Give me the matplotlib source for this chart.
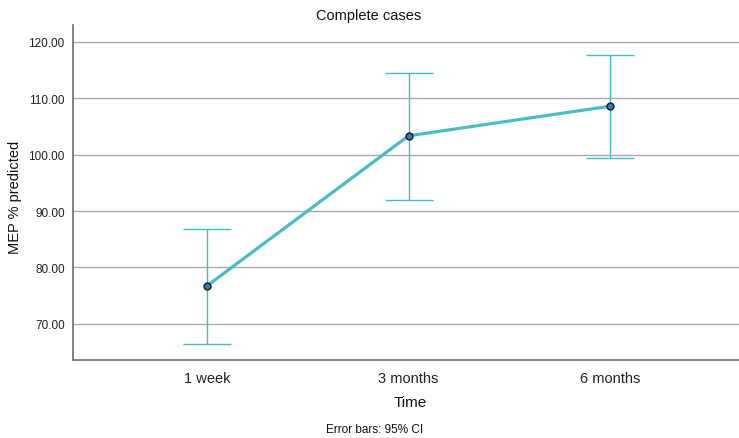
import matplotlib
matplotlib.use("Agg")
import matplotlib.pyplot as plt
import numpy as np

plt.rcParams['font.family'] = ['Liberation Sans', 'DejaVu Sans']

categories = ["1 week", "3 months", "6 months"]
means = [76.75, 103.35, 108.6]
ci_low = [66.45, 91.95, 99.45]
ci_high = [86.8, 114.5, 117.7]
yticks = [70, 80, 90, 100, 110, 120]

fig = plt.figure(figsize=(7.39, 4.39), dpi=100)
ax = fig.add_axes([0.0988, 0.1777, 0.9012, 0.7631])

x = np.arange(len(categories))
m = np.array(means)
yerr = np.vstack([m - np.array(ci_low), np.array(ci_high) - m])

for y in yticks:
    ax.axhline(y, color="#aaaaaa", lw=1.0, zorder=0)

ax.errorbar(x, m, yerr=yerr, fmt="none", ecolor="#45bcc6", elinewidth=1.0,
            capsize=17, capthick=1.0, zorder=2)
ax.plot(x, m, color="#4bbdc2", lw=2.3, zorder=3)
ax.plot(x, m, "o", ms=5, mfc="#2a7fb0", mec="#1a1a1a", mew=1.0, zorder=4)

ax.set_xlim(-0.665, 2.64)
ax.set_ylim(63.6, 123.0)
ax.set_xticks(x)
ax.set_xticklabels(categories, fontsize=10.5, color="#222222")
ax.set_yticks(yticks)
ax.set_yticklabels([f"{v:.2f}" for v in yticks], fontsize=8.5, color="#222222")
ax.tick_params(axis="both", length=0, pad=6)
ax.tick_params(axis="x", pad=8)

for s in ["top", "right"]:
    ax.spines[s].set_visible(False)
ax.spines["left"].set_color("#6e6e6e")
ax.spines["left"].set_linewidth(1.2)
ax.spines["bottom"].set_color("#6e6e6e")
ax.spines["bottom"].set_linewidth(1.2)

fig.text(15 / 739, 1 - 197 / 439, "MEP % predicted", rotation=90, ha="center", va="center",
         fontsize=10.5, color="#111111")
fig.text(410 / 739, 1 - 403 / 439, "Time", ha="center", va="center", fontsize=11, color="#111111")
fig.text(369 / 739, 1 - 16 / 439, "Complete cases", ha="center", va="center", fontsize=10.5, color="#111111")
fig.text(375 / 739, 1 - 430 / 439, "Error bars: 95% CI", ha="center", va="center", fontsize=8.5, color="#111111")

fig.savefig("out.png", dpi=100)
